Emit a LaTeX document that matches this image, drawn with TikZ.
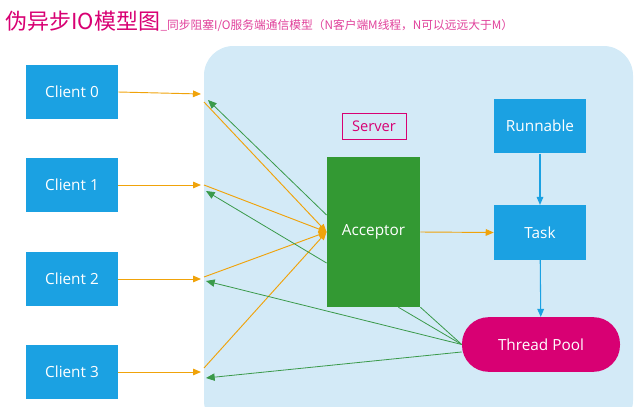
\documentclass[tikz,border=0pt]{standalone}
\usepackage{fontspec}
\setmainfont{Open Sans}
\newfontfamily\cjkfont{Noto Sans CJK SC}
\usetikzlibrary{arrows.meta}

\definecolor{clientblue}{HTML}{1BA1E2}
\definecolor{accgreen}{HTML}{339933}
\definecolor{serverbg}{HTML}{D3EAF7}
\definecolor{reqorange}{HTML}{F0A30A}
\definecolor{poolpink}{HTML}{D80073}
\definecolor{subpink}{HTML}{E0409A}
\definecolor{retgreen}{HTML}{3A9A4A}

\begin{document}
\begin{tikzpicture}[x=0.75pt,y=-0.75pt,
  box/.style={fill=clientblue,text=white,minimum width=69pt,minimum height=41pt,inner sep=0pt,font=\fontsize{11.5}{13}\selectfont},
  req/.style={draw=reqorange,line width=0.7pt,-{Triangle[length=6pt,width=5pt]}},
  ret/.style={draw=retgreen,line width=0.6pt,-{Triangle[length=6.5pt,width=5.5pt]}},
  link/.style={draw=retgreen,line width=0.6pt},
  task/.style={draw=clientblue,line width=0.8pt,-{Triangle[length=6pt,width=5pt]}}]

  \useasboundingbox (0,0) rectangle (640,407);
  \clip (0,0) rectangle (640,407);

  % Server area
  \fill[serverbg,rounded corners=22pt] (204,46) rectangle (633,430);

  % Title
  \node[anchor=base west,inner sep=0pt,text=poolpink,font=\cjkfont\fontsize{16.5}{18}\selectfont] (title) at (5,30) {伪异步IO模型图};
  \node[anchor=base west,inner sep=0pt,text=subpink,font=\cjkfont\fontsize{8.8}{10}\selectfont] (subtitle) at (title.base east) {\_同步阻塞I/O服务端通信模型（N客户端M线程，N可以远远大于M）};

  % Clients
  \foreach \i/\y in {0/92,1/185,2/279,3/372}
    \node[box] (c\i) at (72,\y) {Client \i};

  % where the client requests arrive
  \coordinate (in0) at (201,94);
  \coordinate (in1) at (201,185);
  \coordinate (in2) at (201,279);
  \coordinate (in3) at (201,372);
  \foreach \i in {0,...,3}
    \draw[req] (c\i.east) -- (in\i);

  % Server side
  \node[draw=poolpink,line width=0.6pt,text=poolpink,minimum width=48pt,minimum height=20pt,inner sep=0pt,font=\fontsize{11}{13}\selectfont] (server) at (374,126.5) {Server};
  \node[fill=accgreen,text=white,minimum width=70pt,minimum height=112.5pt,inner sep=0pt,font=\fontsize{11.5}{13}\selectfont] (acceptor) at (373.5,232) {Acceptor};
  \node[box] (runnable) at (540,126) {Runnable};
  \node[box] (task) at (540,232.5) {Task};
  \node[fill=poolpink,text=white,rounded corners=20pt,minimum width=118.5pt,minimum height=41pt,inner sep=0pt,font=\fontsize{11.5}{13}\selectfont] (pool) at (541,344.5) {Thread Pool};

  \draw[task] (runnable) -- (task);
  \draw[task] (task) -- (pool);
  \draw[req] (acceptor.east) -- (task.west);

  % requests into the acceptor
  \coordinate (o0) at (204,102);
  \coordinate (o1) at (204,185);
  \coordinate (o2) at (204,277);
  \coordinate (o3) at (204,368);
  \foreach \i in {0,...,3}
    \draw[req] (o\i) -- (acceptor.west);

  % replies back to the clients
  \coordinate (r0) at (208,100);
  \coordinate (r1) at (206,191);
  \coordinate (r2) at (206,281);
  \coordinate (r3) at (206,378);
  \draw[ret] ([yshift=12.75pt]acceptor.west) -- (r0);
  \draw[ret] ([yshift=-23.25pt]acceptor.west) -- (r1);
  \draw[ret] (pool.west) -- (r2);
  \draw[ret] ([yshift=-5.6pt]pool.west) -- (r3);

  % pool to acceptor
  \draw[link] (pool.west) -- ([xshift=-16.5pt]acceptor.south east);
  \draw[link] (pool.west) -- (acceptor.south east);

\end{tikzpicture}
\end{document}
